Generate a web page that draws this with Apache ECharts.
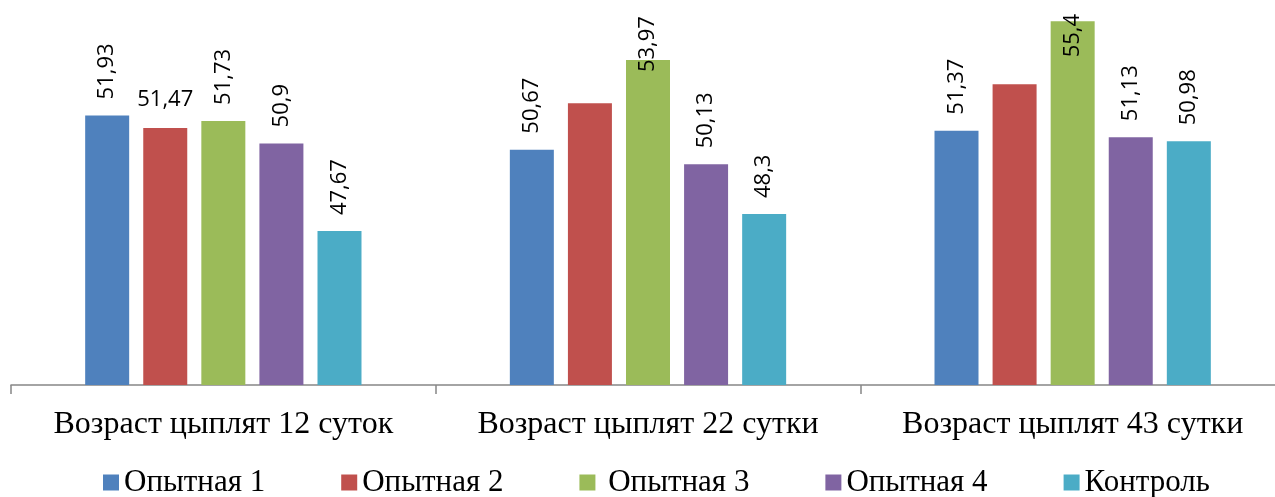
<!DOCTYPE html>
<html>
<head>
<meta charset="utf-8">
<script src="https://cdn.jsdelivr.net/npm/echarts@6/dist/echarts.min.js"></script>
<style>
  html, body { margin: 0; padding: 0; background: #ffffff; overflow: hidden; width: 1275px; height: 497px; }
  #chart { width: 1285px; height: 497px; }
</style>
</head>
<body>
<div id="chart"></div>
<script>
// Ages of the chicks (x categories)
const categories = ['Возраст цыплят 12 суток', 'Возраст цыплят 22 сутки', 'Возраст цыплят 43 сутки'];

// Group names
const seriesNames = ['Опытная 1', 'Опытная 2', 'Опытная 3', 'Опытная 4', 'Контроль'];

// Values per group, one entry per age
const group1 = [51.93, 50.67, 51.37];
const group2 = [51.47, 52.38, 53.08];
const group3 = [51.73, 53.97, 55.4];
const group4 = [50.9, 50.13, 51.13];
const control = [47.67, 48.3, 50.98];

// Which points carry a value label
const group1Labels = [true, true, true];
const group2Labels = [true, false, false];
const group3Labels = [true, true, true];
const group4Labels = [true, true, true];
const controlLabels = [true, true, true];

const colors = ['#4F81BD', '#C0504D', '#9BBB59', '#8064A2', '#4BACC6'];

const fmt = v => String(v).replace('.', ',');

const labelBase = {
  show: true,
  position: 'top',
  rotate: 90,
  align: 'left',
  verticalAlign: 'middle',
  distance: 16,
  color: '#000000',
  fontFamily: 'Open Sans',
  fontSize: 22,
  formatter: p => fmt(p.value)
};

// Per-point label tweaks: horizontal label, labels pushed down inside tall bars
function pointLabel(seriesIdx, catIdx, shown) {
  if (!shown) return { show: false };
  if (seriesIdx === 1 && catIdx === 0) {
    return { rotate: 0, align: 'center', verticalAlign: 'bottom', distance: 17 };
  }
  if (seriesIdx === 2 && catIdx === 1) {
    return { position: ['50%', 12], distance: 0 };
  }
  if (seriesIdx === 2 && catIdx === 2) {
    return { position: ['50%', 36], distance: 0 };
  }
  return {};
}

const allValues = [group1, group2, group3, group4, control];
const allLabels = [group1Labels, group2Labels, group3Labels, group4Labels, controlLabels];

const series = allValues.map((vals, si) => ({
  name: seriesNames[si],
  type: 'bar',
  barWidth: 44,
  barGap: '32%',
  itemStyle: { color: colors[si] },
  label: labelBase,
  data: vals.map((v, ci) => ({ value: v, label: pointLabel(si, ci, allLabels[si][ci]) }))
}));

const chart = echarts.init(document.getElementById('chart'), null, { renderer: 'canvas' });
chart.setOption({
  animation: false,
  backgroundColor: '#ffffff',
  color: colors,
  grid: { left: 11, top: 5, right: 0, height: 380, containLabel: false },
  legend: {
    data: seriesNames,
    left: 103,
    top: 467,
    padding: 0,
    icon: 'rect',
    itemWidth: 16,
    itemHeight: 16,
    itemGap: 76,
    formatter: name => (name === 'Опытная 3' ? ' ' + name : name),
    textStyle: {
      fontFamily: 'Liberation Serif',
      fontSize: 31,
      color: '#000000'
    }
  },
  xAxis: {
    type: 'category',
    data: categories,
    axisLine: { show: true, lineStyle: { color: '#868686', width: 1.5 } },
    axisTick: { show: true, alignWithLabel: false, length: 9, lineStyle: { color: '#868686', width: 1.5 } },
    axisLabel: {
      color: '#000000',
      fontFamily: 'Liberation Serif',
      fontSize: 32,
      margin: 24,
      interval: 0
    }
  },
  yAxis: {
    type: 'value',
    min: 42,
    max: 56,
    show: false,
    splitLine: { show: false }
  },
  series: series
});
</script>
</body>
</html>
